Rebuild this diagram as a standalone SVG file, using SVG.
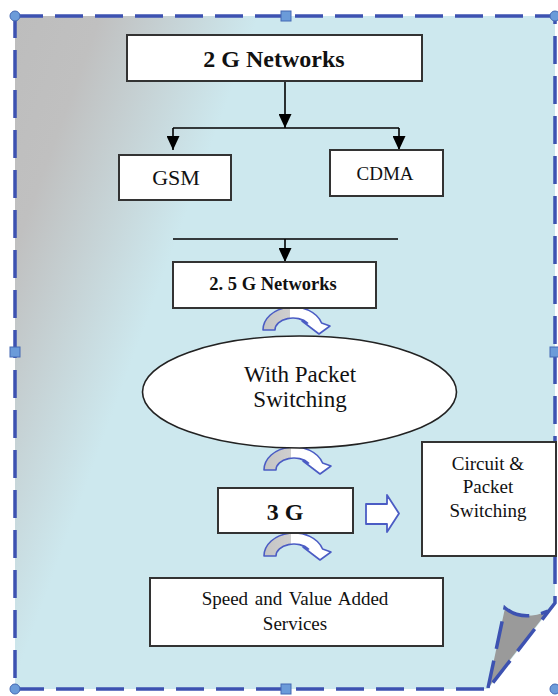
<svg xmlns="http://www.w3.org/2000/svg" width="558" height="696" viewBox="0 0 558 696">
<defs>
<linearGradient id="pageGrad" gradientUnits="userSpaceOnUse" x1="15" y1="16" x2="230" y2="95">
<stop offset="0" stop-color="#bdbdbd"/>
<stop offset="0.35" stop-color="#c0c0c0"/>
<stop offset="1" stop-color="#cde8ee"/>
</linearGradient>
<linearGradient id="curlGrad" x1="0" y1="0" x2="1" y2="0">
<stop offset="0" stop-color="#c4c4c4"/>
<stop offset="0.4" stop-color="#cfcfcf"/>
<stop offset="0.4" stop-color="#ffffff"/>
<stop offset="1" stop-color="#ffffff"/>
</linearGradient>
<path id="curl" d="M0,0 A30,23 0 0 1 58.6,-7 L67,-4 L56,4 L39,-9 L44.6,-7 A18,12 0 0 0 12,0 Z" fill="url(#curlGrad)" stroke="#4b5cc4" stroke-width="1.6" stroke-linejoin="round"/>
<marker id="ah" viewBox="0 0 14 13" refX="14" refY="6.5" markerWidth="14" markerHeight="13" markerUnits="userSpaceOnUse" orient="auto">
<path d="M0,0 L14,6.5 L0,13 Z" fill="#000"/>
</marker>
</defs>
<style>
.box{fill:#fff;stroke:#333;stroke-width:2}
.t{fill:#111;text-anchor:middle}
.b{font-weight:bold}
.dash{fill:none;stroke:#3d52b1;stroke-width:3.5;stroke-dasharray:28 12}
.conn{fill:none;stroke:#000;stroke-width:1.6}
.hc{fill:#6b9bd9;stroke:#4468b4;stroke-width:1}
</style>

<g id="page">
<path d="M15,16 H555 V603 L488,689 H15 Z" fill="url(#pageGrad)"/>
<path d="M505,608 Q522,622 548,611 L488,688 Z" fill="#9a9a9a"/>
<path class="dash" d="M15,16 H555 V603 L488,689 H15 Z"/>
<path class="dash" d="M488,688 L505,608 Q522,622 548,611" stroke-dasharray="12 6"/>
<circle class="hc" cx="15" cy="16" r="5"/>
<circle class="hc" cx="555" cy="16" r="5"/>
<circle class="hc" cx="555" cy="689" r="5"/>
<circle class="hc" cx="15" cy="689" r="5"/>
<rect class="hc" x="281" y="11" width="10" height="10"/>
<rect class="hc" x="10" y="347" width="10" height="10"/>
<rect class="hc" x="550" y="347" width="10" height="10"/>
<rect class="hc" x="281" y="684" width="10" height="10"/>
</g>

<g id="connectors">
<line class="conn" x1="285" y1="81" x2="285" y2="128" marker-end="url(#ah)"/>
<line class="conn" x1="173" y1="128" x2="399" y2="128"/>
<line class="conn" x1="173" y1="128" x2="173" y2="150" marker-end="url(#ah)"/>
<line class="conn" x1="399" y1="128" x2="399" y2="150" marker-end="url(#ah)"/>
<line class="conn" x1="173" y1="239" x2="398" y2="239"/>
<line class="conn" x1="285" y1="239" x2="285" y2="262" marker-end="url(#ah)"/>
<use href="#curl" x="263" y="330"/>
<use href="#curl" x="264" y="470"/>
<use href="#curl" x="264" y="556"/>
<path d="M366,504 H387 V495 L399,513.5 L387,532 V524 H366 Z" fill="#fff" stroke="#4b5cc4" stroke-width="1.8" stroke-linejoin="round"/>
</g>

<g font-family="Liberation Serif, Times New Roman, DejaVu Serif, serif">
<g id="n2g">
<rect class="box" x="127" y="35" width="295" height="46"/>
<text class="t b" x="274" y="67" font-size="24">2 G Networks</text>
</g>
<g id="gsm">
<rect class="box" x="119" y="155" width="112" height="45"/>
<text class="t" x="176" y="185" font-size="22">GSM</text>
</g>
<g id="cdma">
<rect class="box" x="330" y="150" width="113" height="46"/>
<text class="t" x="385" y="180" font-size="19">CDMA</text>
</g>
<g id="n25g">
<rect class="box" x="173" y="262" width="203" height="46"/>
<text class="t b" x="273" y="290" font-size="18.5">2. 5 G Networks</text>
</g>
<g id="packet">
<ellipse cx="299.5" cy="392" rx="157" ry="56" fill="#fff" stroke="#222" stroke-width="1.6"/>
<text class="t" x="300" y="382" font-size="23">With Packet</text>
<text class="t" x="300" y="407" font-size="23">Switching</text>
</g>
<g id="n3g">
<rect class="box" x="218" y="488" width="135" height="45"/>
<text class="t b" x="285" y="520" font-size="24">3 G</text>
</g>
<g id="circuit">
<rect class="box" x="422" y="442" width="134" height="114"/>
<text class="t" x="488" y="470" font-size="19">Circuit &amp;</text>
<text class="t" x="488" y="493" font-size="19">Packet</text>
<text class="t" x="488" y="517" font-size="19">Switching</text>
</g>
<g id="speed">
<rect class="box" x="150" y="578" width="293" height="68"/>
<text class="t" x="295" y="605" font-size="19" word-spacing="2">Speed and Value Added</text>
<text class="t" x="295" y="630" font-size="19">Services</text>
</g>
</g>
</svg>
